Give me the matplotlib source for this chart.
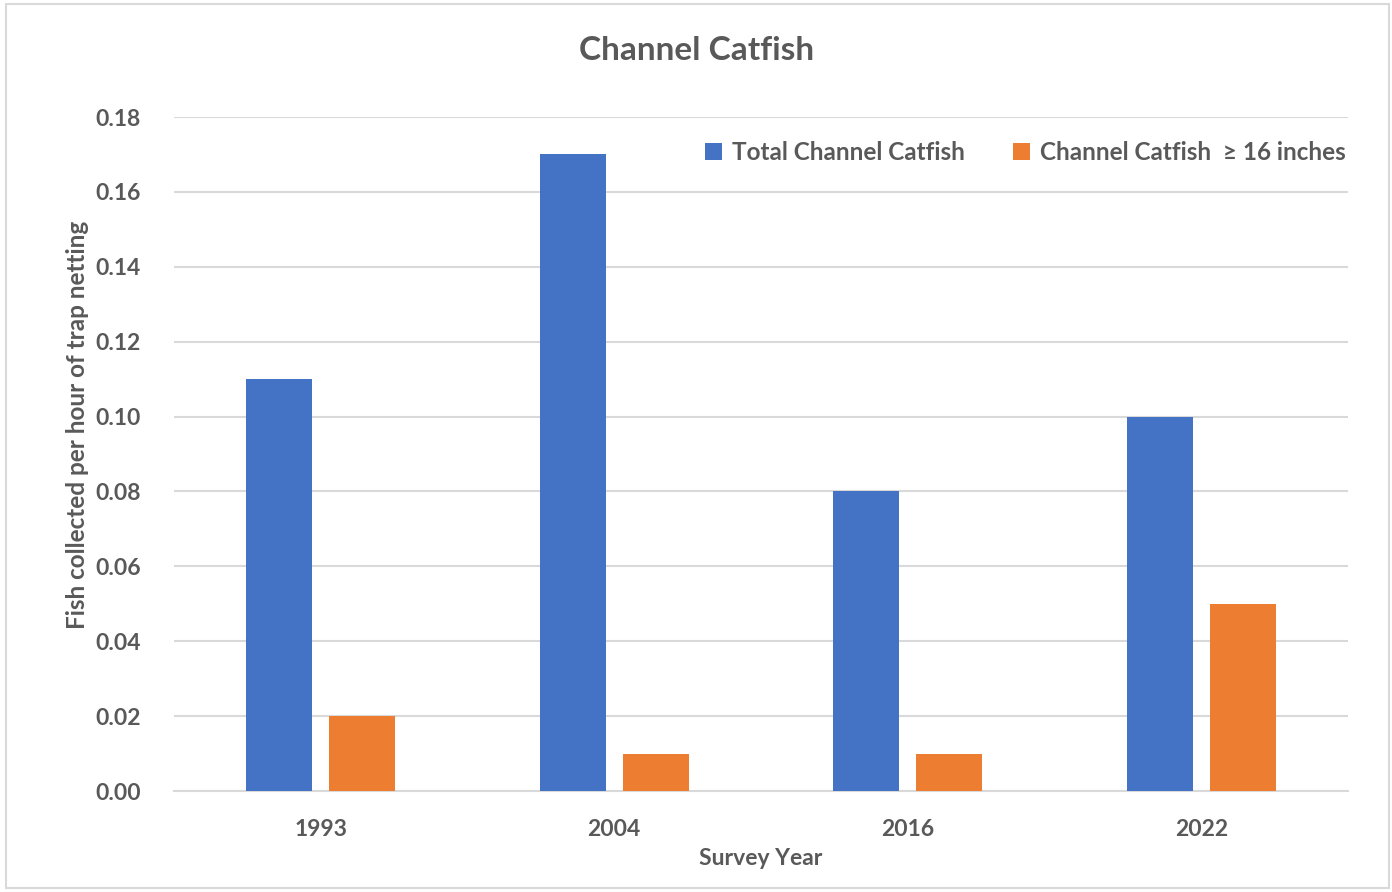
import matplotlib
matplotlib.use('Agg')
import numpy as np
import matplotlib.pyplot as plt
from matplotlib.patches import Rectangle

years = ["1993", "2004", "2016", "2022"]
total_catfish = [0.11, 0.17, 0.08, 0.10]
large_catfish = [0.02, 0.01, 0.01, 0.05]
y_ticks = [0.00, 0.02, 0.04, 0.06, 0.08, 0.10, 0.12, 0.14, 0.16, 0.18]

BLUE = "#4472C4"
ORANGE = "#ED7D31"
TXT = "#595959"
GRID = "#D9D9D9"

plt.rcParams['font.family'] = ['Lato', 'DejaVu Sans']
plt.rcParams['font.weight'] = 'bold'
plt.rcParams['axes.labelweight'] = 'bold'

fig = plt.figure(figsize=(13.92, 8.92), dpi=100, facecolor="white")
ax = fig.add_axes([174 / 1392, 1 - 791 / 892, (1348 - 174) / 1392, (791 - 117) / 892])

x = np.arange(len(years))
w = 0.225
off = 0.142
ax.bar(x - off, total_catfish, width=w, color=BLUE, label="Total Channel Catfish", zorder=3)
ax.bar(x + off, large_catfish, width=w, color=ORANGE, label="Channel Catfish  \u2265 16 inches", zorder=3)

ax.set_xlim(-0.5, len(years) - 0.5)
ax.set_ylim(0, 0.18)
ax.set_yticks(y_ticks)
ax.set_yticklabels([f"{v:.2f}" for v in y_ticks])
ax.set_xticks(x)
ax.set_xticklabels(years)
ax.tick_params(axis='both', length=0, labelsize=16.5, labelcolor=TXT)
ax.tick_params(axis='y', pad=24)
ax.tick_params(axis='x', pad=20)

ax.grid(axis='y', color=GRID, linewidth=1.5, zorder=0)
for s in ['top', 'right', 'left']:
    ax.spines[s].set_visible(False)
ax.spines['bottom'].set_color(GRID)
ax.spines['bottom'].set_linewidth(1.5)

ax.set_ylabel("Fish collected per hour of trap netting", fontsize=17.5, color=TXT)
ax.yaxis.set_label_coords((89 - 174) / 1174, (791 - 425) / 674)
ax.set_xlabel("Survey Year", fontsize=16.5, color=TXT, labelpad=6)
fig.text(697 / 1392, 1 - 50 / 892, "Channel Catfish", ha="center", va="center",
         fontsize=24, color=TXT, fontweight="bold")

leg = ax.legend(loc="upper right", bbox_to_anchor=(1.002, 0.971), ncol=2, frameon=False,
                fontsize=17.5, handlelength=0.7, handleheight=0.7, handletextpad=0.4,
                columnspacing=2.0, borderaxespad=0.0, borderpad=0.2, labelcolor=TXT)

fig.patches.append(Rectangle((6 / 1392, 4 / 892), 1383 / 1392, 884 / 892, transform=fig.transFigure,
                             fill=False, edgecolor=GRID, linewidth=1.5))

fig.savefig("out.png", dpi=100, facecolor="white")
